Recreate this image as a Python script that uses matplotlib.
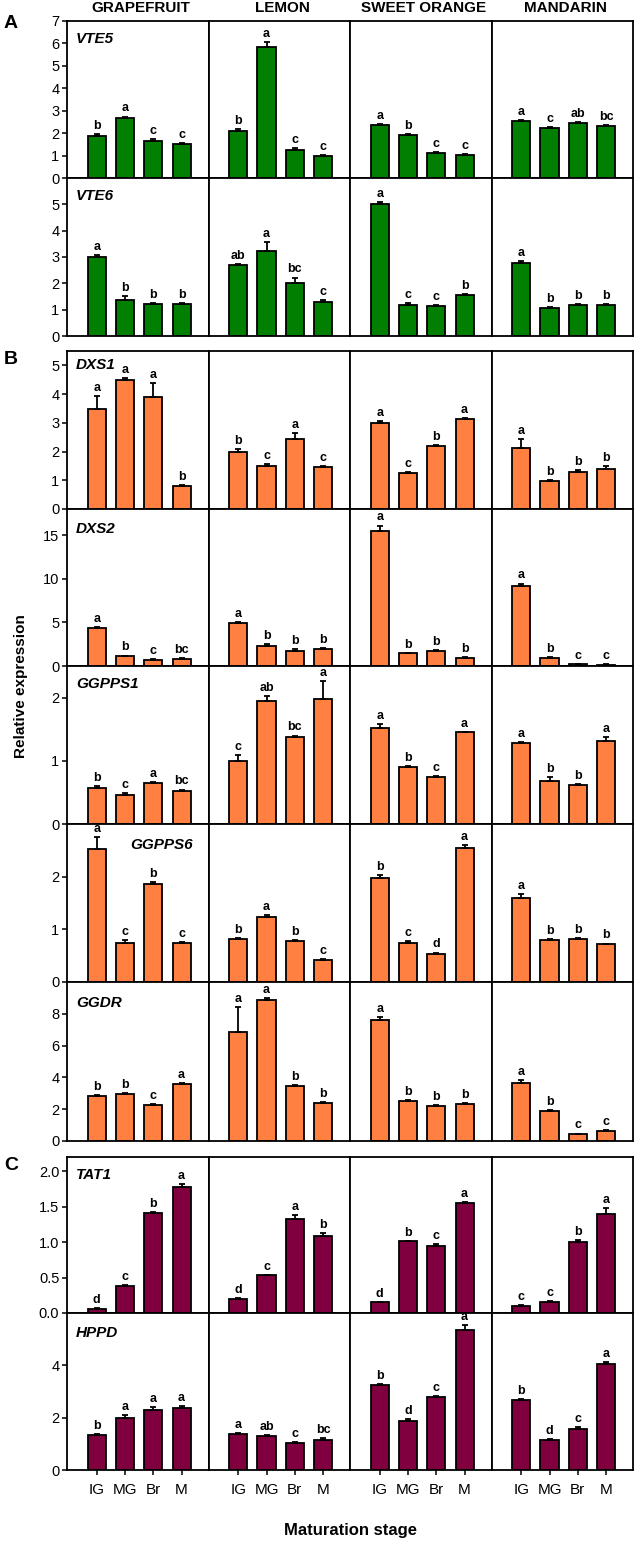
import numpy as np
import matplotlib
matplotlib.use('Agg')
import matplotlib.pyplot as plt

plt.rcParams['font.family'] = ['Liberation Sans', 'DejaVu Sans']

# ---------------- data ----------------
stages = ['IG', 'MG', 'Br', 'M']
fruits = ['GRAPEFRUIT', 'LEMON', 'SWEET ORANGE', 'MANDARIN']
genes = ['VTE5', 'VTE6', 'DXS1', 'DXS2', 'GGPPS1', 'GGPPS6', 'GGDR', 'TAT1', 'HPPD']

# rows = fruits (grapefruit, lemon, sweet orange, mandarin), cols = stages
vte5_mean = [[1.88, 2.68, 1.66, 1.51], [2.10, 5.85, 1.27, 1.00], [2.37, 1.90, 1.12, 1.03], [2.52, 2.22, 2.44, 2.34]]
vte5_err = [[0.06, 0.06, 0.06, 0.05], [0.07, 0.20, 0.06, 0.04], [0.04, 0.08, 0.02, 0.02], [0.05, 0.06, 0.04, 0.02]]
vte5_sig = [['b', 'a', 'c', 'c'], ['b', 'a', 'c', 'c'], ['a', 'b', 'c', 'c'], ['a', 'c', 'ab', 'bc']]

vte6_mean = [[3.00, 1.38, 1.22, 1.20], [2.68, 3.24, 2.00, 1.28], [5.03, 1.19, 1.13, 1.55], [2.78, 1.08, 1.17, 1.19]]
vte6_err = [[0.06, 0.14, 0.03, 0.05], [0.06, 0.34, 0.22, 0.08], [0.04, 0.05, 0.05, 0.05], [0.06, 0.02, 0.04, 0.04]]
vte6_sig = [['a', 'b', 'b', 'b'], ['ab', 'a', 'bc', 'c'], ['a', 'c', 'c', 'b'], ['a', 'b', 'b', 'b']]

dxs1_mean = [[3.49, 4.48, 3.90, 0.81], [1.98, 1.49, 2.44, 1.46], [3.01, 1.26, 2.19, 3.12], [2.12, 0.99, 1.30, 1.39]]
dxs1_err = [[0.45, 0.07, 0.50, 0.02], [0.10, 0.06, 0.21, 0.04], [0.05, 0.02, 0.05, 0.04], [0.30, 0.02, 0.06, 0.10]]
dxs1_sig = [['a', 'a', 'a', 'b'], ['b', 'c', 'a', 'c'], ['a', 'c', 'b', 'a'], ['a', 'b', 'b', 'b']]

dxs2_mean = [[4.30, 1.10, 0.70, 0.85], [4.95, 2.35, 1.70, 1.90], [15.5, 1.45, 1.70, 0.95], [9.20, 0.95, 0.20, 0.15]]
dxs2_err = [[0.15, 0.10, 0.08, 0.05], [0.08, 0.15, 0.25, 0.15], [0.60, 0.08, 0.10, 0.08], [0.25, 0.10, 0.05, 0.03]]
dxs2_sig = [['a', 'b', 'c', 'bc'], ['a', 'b', 'b', 'b'], ['a', 'b', 'b', 'b'], ['a', 'b', 'c', 'c']]

ggpps1_mean = [[0.565, 0.465, 0.65, 0.52], [1.00, 1.94, 1.37, 1.97], [1.52, 0.90, 0.75, 1.45], [1.28, 0.68, 0.61, 1.32]]
ggpps1_err = [[0.03, 0.02, 0.02, 0.025], [0.09, 0.08, 0.03, 0.29], [0.06, 0.02, 0.01, 0.01], [0.02, 0.06, 0.02, 0.05]]
ggpps1_sig = [['b', 'c', 'a', 'bc'], ['c', 'ab', 'bc', 'a'], ['a', 'b', 'c', 'a'], ['a', 'b', 'b', 'a']]

ggpps6_mean = [[2.52, 0.74, 1.87, 0.74], [0.82, 1.23, 0.77, 0.42], [1.98, 0.74, 0.53, 2.55], [1.60, 0.80, 0.81, 0.72]]
ggpps6_err = [[0.23, 0.05, 0.02, 0.02], [0.02, 0.05, 0.03, 0.02], [0.05, 0.04, 0.03, 0.05], [0.07, 0.02, 0.03, 0.01]]
ggpps6_sig = [['a', 'c', 'b', 'c'], ['b', 'a', 'b', 'c'], ['b', 'c', 'd', 'a'], ['a', 'b', 'b', 'b']]

ggdr_mean = [[2.82, 2.93, 2.25, 3.58], [6.88, 8.86, 3.45, 2.40], [7.62, 2.50, 2.21, 2.30], [3.66, 1.87, 0.44, 0.65]]
ggdr_err = [[0.08, 0.06, 0.06, 0.08], [1.56, 0.15, 0.06, 0.05], [0.15, 0.05, 0.08, 0.07], [0.20, 0.05, 0.03, 0.05]]
ggdr_sig = [['b', 'b', 'c', 'a'], ['a', 'a', 'b', 'b'], ['a', 'b', 'b', 'b'], ['a', 'b', 'c', 'c']]

tat1_mean = [[0.06, 0.38, 1.405, 1.78], [0.20, 0.53, 1.33, 1.09], [0.15, 1.01, 0.94, 1.545], [0.10, 0.16, 1.00, 1.40]]
tat1_err = [[0.005, 0.02, 0.015, 0.04], [0.01, 0.01, 0.05, 0.04], [0.01, 0.01, 0.03, 0.015], [0.01, 0.015, 0.03, 0.08]]
tat1_sig = [['d', 'c', 'b', 'a'], ['d', 'c', 'a', 'b'], ['d', 'b', 'c', 'a'], ['c', 'c', 'b', 'a']]

hppd_mean = [[1.33, 1.98, 2.28, 2.36], [1.36, 1.29, 1.05, 1.16], [3.26, 1.89, 2.80, 5.34], [2.68, 1.15, 1.58, 4.06]]
hppd_err = [[0.06, 0.12, 0.12, 0.08], [0.05, 0.06, 0.03, 0.06], [0.02, 0.07, 0.04, 0.19], [0.04, 0.02, 0.05, 0.08]]
hppd_sig = [['b', 'a', 'a', 'a'], ['a', 'ab', 'c', 'bc'], ['b', 'd', 'c', 'a'], ['b', 'd', 'c', 'a']]

# ---------------- layout / style ----------------
green = '#007f00'
orange = '#ff8040'
maroon = '#80003f'

rows = [
    ('VTE5', vte5_mean, vte5_err, vte5_sig, green, 7, [0, 1, 2, 3, 4, 5, 6, 7], (0.065, 0.93)),
    ('VTE6', vte6_mean, vte6_err, vte6_sig, green, 6, [0, 1, 2, 3, 4, 5], (0.065, 0.93)),
    ('DXS1', dxs1_mean, dxs1_err, dxs1_sig, orange, 5.5, [0, 1, 2, 3, 4, 5], (0.065, 0.955)),
    ('DXS2', dxs2_mean, dxs2_err, dxs2_sig, orange, 18, [0, 5, 10, 15], (0.065, 0.92)),
    ('GGPPS1', ggpps1_mean, ggpps1_err, ggpps1_sig, orange, 2.5, [0, 1, 2], (0.065, 0.93)),
    ('GGPPS6', ggpps6_mean, ggpps6_err, ggpps6_sig, orange, 3, [0, 1, 2], (0.45, 0.91)),
    ('GGDR', ggdr_mean, ggdr_err, ggdr_sig, orange, 10, [0, 2, 4, 6, 8], (0.065, 0.915)),
    ('TAT1', tat1_mean, tat1_err, tat1_sig, maroon, 2.2, [0, 0.5, 1.0, 1.5, 2.0], (0.065, 0.93)),
    ('HPPD', hppd_mean, hppd_err, hppd_sig, maroon, 6, [0, 2, 4], (0.065, 0.915)),
]

# pixel rows (top, bottom) of each gene strip
rows_px = [(21, 178), (178, 336), (351, 509), (509, 666), (666, 824),
           (824, 982), (982, 1141), (1157, 1313), (1313, 1470)]
col_left = 67
col_w = (633 - 67) / 4

W, H = 636, 1542
fig = plt.figure(figsize=(W / 100, H / 100), dpi=100)

x = np.arange(1, 5)

for r, (gene, mean, err, sig, color, ymax, yt, lab) in enumerate(rows):
    top, bot = rows_px[r]
    for c in range(4):
        ax = fig.add_axes([(col_left + c * col_w) / W, 1 - bot / H, col_w / W, (bot - top) / H])
        m = np.array(mean[c])
        e = np.array(err[c])
        ax.bar(x, m, width=0.64, color=color, edgecolor='black', linewidth=1.3, zorder=2)
        ax.errorbar(x, m, yerr=[np.zeros(4), e], fmt='none', ecolor='black',
                    elinewidth=1.3, capsize=2.2, capthick=1.3, zorder=3)
        for xi, mi, ei, s in zip(x, m, e, sig[c]):
            ax.annotate(s, (xi, mi + ei), xytext=(0, 1.5), textcoords='offset points',
                        ha='center', va='bottom', fontsize=9, fontweight='bold',
                        annotation_clip=False, zorder=4)
        ax.set_xlim(-0.05, 4.95)
        ax.set_ylim(0, ymax)
        for sp in ax.spines.values():
            sp.set_linewidth(1.3)
        ax.tick_params(direction='out', length=3.5, width=1.1, labelsize=10.5, pad=2)
        if c == 0:
            ax.set_yticks(yt)
            if gene == 'TAT1':
                ax.set_yticklabels([f'{v:.1f}' for v in yt])
            else:
                ax.set_yticklabels([f'{v:g}' for v in yt])
            ax.text(lab[0], lab[1], gene, transform=ax.transAxes, ha='left', va='top',
                    fontsize=11, fontweight='bold', fontstyle='italic')
        else:
            ax.set_yticks([])
        if r == len(rows) - 1:
            ax.set_xticks(x)
            ax.set_xticklabels(stages, fontsize=11)
            ax.tick_params(axis='x', pad=6)
        else:
            ax.set_xticks([])

# column titles
for c, name in enumerate(fruits):
    fig.text((col_left + (c + 0.5) * col_w + 3) / W, 1 - 8 / H, name, ha='center', va='center',
             fontsize=11, fontweight='bold')

# panel letters
for letter, ypx in [('A', 24), ('B', 360), ('C', 1165)]:
    fig.text(11 / W, 1 - ypx / H, letter, ha='center', va='center', fontsize=14, fontweight='bold')

fig.text(21 / W, 1 - 686 / H, 'Relative expression', rotation=90, ha='center', va='center',
         fontsize=11, fontweight='bold')
fig.text(350 / W, 1 - 1530 / H, 'Maturation stage', ha='center', va='center',
         fontsize=12, fontweight='bold')

fig.savefig('out.png', dpi=100)
